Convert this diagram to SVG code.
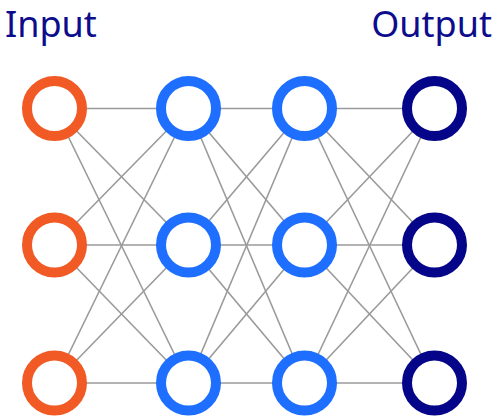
<svg xmlns="http://www.w3.org/2000/svg" width="497" height="417" viewBox="0 0 497 417">
<style>
.lbl{font-family:"Noto Sans","DejaVu Sans",sans-serif;font-size:36px;fill:#0c0c8c}
.c line{stroke:#9a9a9a;stroke-width:1.6}
.n{fill:#fff;stroke-width:10}
.in{stroke:#f15a24}
.hd{stroke:#1e6fff}
.out{stroke:#05058a}
</style>
<rect width="497" height="417" fill="#fff"/>
<text class="lbl" x="5" y="37">Input</text>
<text class="lbl" x="492" y="37" text-anchor="end">Output</text>
<g id="connectors" class="c">
<line x1="54.5" y1="108.5" x2="188.5" y2="108.5"/>
<line x1="54.5" y1="108.5" x2="188.5" y2="245"/>
<line x1="54.5" y1="108.5" x2="188.5" y2="383"/>
<line x1="54.5" y1="245" x2="188.5" y2="108.5"/>
<line x1="54.5" y1="245" x2="188.5" y2="245"/>
<line x1="54.5" y1="245" x2="188.5" y2="383"/>
<line x1="54.5" y1="383" x2="188.5" y2="108.5"/>
<line x1="54.5" y1="383" x2="188.5" y2="245"/>
<line x1="54.5" y1="383" x2="188.5" y2="383"/>
<line x1="188.5" y1="108.5" x2="304.5" y2="108.5"/>
<line x1="188.5" y1="108.5" x2="304.5" y2="245"/>
<line x1="188.5" y1="108.5" x2="304.5" y2="383"/>
<line x1="188.5" y1="245" x2="304.5" y2="108.5"/>
<line x1="188.5" y1="245" x2="304.5" y2="245"/>
<line x1="188.5" y1="245" x2="304.5" y2="383"/>
<line x1="188.5" y1="383" x2="304.5" y2="108.5"/>
<line x1="188.5" y1="383" x2="304.5" y2="245"/>
<line x1="188.5" y1="383" x2="304.5" y2="383"/>
<line x1="304.5" y1="108.5" x2="434.5" y2="108.5"/>
<line x1="304.5" y1="108.5" x2="434.5" y2="245"/>
<line x1="304.5" y1="108.5" x2="434.5" y2="383"/>
<line x1="304.5" y1="245" x2="434.5" y2="108.5"/>
<line x1="304.5" y1="245" x2="434.5" y2="245"/>
<line x1="304.5" y1="245" x2="434.5" y2="383"/>
<line x1="304.5" y1="383" x2="434.5" y2="108.5"/>
<line x1="304.5" y1="383" x2="434.5" y2="245"/>
<line x1="304.5" y1="383" x2="434.5" y2="383"/>
</g>
<g id="in1"><circle class="n in" cx="54.5" cy="108.5" r="27.5"/></g>
<g id="in2"><circle class="n in" cx="54.5" cy="245" r="27.5"/></g>
<g id="in3"><circle class="n in" cx="54.5" cy="383" r="27.5"/></g>
<g id="h1a"><circle class="n hd" cx="188.5" cy="108.5" r="27.5"/></g>
<g id="h1b"><circle class="n hd" cx="188.5" cy="245" r="27.5"/></g>
<g id="h1c"><circle class="n hd" cx="188.5" cy="383" r="27.5"/></g>
<g id="h2a"><circle class="n hd" cx="304.5" cy="108.5" r="27.5"/></g>
<g id="h2b"><circle class="n hd" cx="304.5" cy="245" r="27.5"/></g>
<g id="h2c"><circle class="n hd" cx="304.5" cy="383" r="27.5"/></g>
<g id="out1"><circle class="n out" cx="434.5" cy="108.5" r="27.5"/></g>
<g id="out2"><circle class="n out" cx="434.5" cy="245" r="27.5"/></g>
<g id="out3"><circle class="n out" cx="434.5" cy="383" r="27.5"/></g>
</svg>
